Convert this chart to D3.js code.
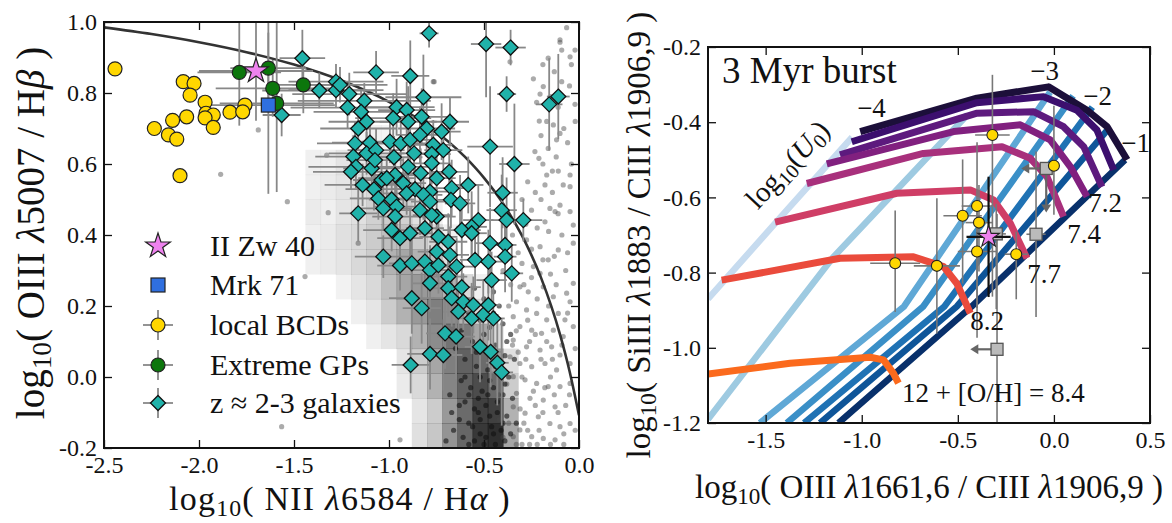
<!DOCTYPE html>
<html>
<head>
<meta charset="utf-8">
<script src="https://cdn.jsdelivr.net/npm/d3@7"></script>
<style>
  body { margin: 0; background: #fff; }
  text { font-family: "Liberation Serif", "DejaVu Serif", serif; fill: #111; }
</style>
</head>
<body>
<svg id="chart" width="1172" height="523"></svg>
<script>
// ---------------- left panel (BPT) data ----------------
var bptTicksX = [-2.5, -2.0, -1.5, -1.0, -0.5, 0.0];
var bptTicksY = [-0.2, 0.0, 0.2, 0.4, 0.6, 0.8, 1.0];

// maximum starburst line
var kewleyX = [-2.5, -2.25, -2.0, -1.75, -1.5, -1.25, -1.0, -0.8, -0.6, -0.5, -0.4, -0.3, -0.2, -0.1, -0.05, 0.0];
var kewleyY = [0.985, 0.966, 0.943, 0.915, 0.880, 0.835, 0.775, 0.710, 0.620, 0.561, 0.489, 0.398, 0.280, 0.120, 0.017, -0.108];

// SDSS density: bins of 0.08 in x from -1.6, 0.07 in y from -0.2; [first column, greys...]
var histX0 = -1.6, histDX = 0.08, histY0 = -0.2, histDY = 0.07;
var histRows = [
  [9, [0.12, 0.22, 0.42, 0.6, 0.78, 0.82, 0.35]],
  [9, [0.1, 0.2, 0.4, 0.58, 0.75, 0.75, 0.3]],
  [8, [0.08, 0.15, 0.3, 0.48, 0.62, 0.7, 0.58, 0.2]],
  [8, [0.1, 0.2, 0.35, 0.5, 0.62, 0.58, 0.38, 0.12]],
  [6, [0.06, 0.1, 0.15, 0.3, 0.45, 0.55, 0.52, 0.35, 0.15]],
  [5, [0.06, 0.1, 0.2, 0.3, 0.4, 0.5, 0.45, 0.3, 0.15]],
  [4, [0.05, 0.1, 0.15, 0.25, 0.35, 0.4, 0.4, 0.3, 0.15, 0.06]],
  [2, [0.06, 0.08, 0.1, 0.15, 0.2, 0.3, 0.35, 0.3, 0.25, 0.12]],
  [2, [0.06, 0.08, 0.12, 0.15, 0.2, 0.25, 0.25, 0.2, 0.15, 0.06]],
  [2, [0.08, 0.06, 0.1, 0.12, 0.18, 0.2, 0.18, 0.12, 0.06]],
  [2, [0.06, 0.08, 0.1, 0.12, 0.15, 0.15, 0.12, 0.06]],
  [2, [0.06, 0.06, 0.1, 0.1, 0.1, 0.08, 0.06]],
  [5, [0.04, 0.05, 0.04, 0.03]]
];

// SDSS galaxies
var sdssDots = [
  [-0.065,0.984],[-0.1,0.943],[-0.091,0.921],[-0.047,0.902],[-0.162,0.898],[-0.021,0.921],[-0.188,0.818],[-0.205,0.797],
  [-0.223,0.774],[-0.021,0.768],[-0.091,0.832],[-0.135,0.710],[-0.1,0.686],[-0.209,0.721],[-0.232,0.635],[-0.211,0.616],
  [-0.162,0.644],[-0.118,0.668],[-0.170,0.569],[-0.109,0.580],[-0.047,0.569],[-0.179,0.541],[-0.083,0.541],[-0.047,0.536],
  [-0.153,0.475],[-0.1,0.484],[-0.126,0.466],[-0.047,0.466],[-0.179,0.437],[-0.03,0.428],[-0.762,0.832],[-0.363,0.888],
  [-0.276,0.386],[-0.205,0.367],[-0.162,0.330],[-0.13,0.34],[-0.109,0.358],[-0.03,0.377],[-0.24,0.311],[-0.205,0.292],
  [-0.311,0.254],[-0.267,0.240],[-0.188,0.254],[-0.135,0.226],[-0.065,0.236],[-0.047,0.212],[-0.329,0.212],[-0.276,0.189],
  [-0.223,0.179],[-0.170,0.161],[-0.109,0.179],[-0.346,0.170],[-0.311,0.142],[-0.249,0.132],[-0.197,0.123],[-0.135,0.132],
  [-0.083,0.114],[-0.346,0.104],[-0.276,0.085],[-0.205,0.076],[-0.144,0.085],[-0.1,0.062],[-0.363,0.057],[-0.311,0.038],
  [-0.249,0.029],[-0.179,0.038],[-0.118,0.020],[-0.346,0.001],[-0.284,-0.008],[-0.223,-0.018],[-0.162,-0.027],[-0.1,-0.027],
  [-0.047,-0.018],[-0.329,-0.046],[-0.258,-0.060],[-0.188,-0.065],[-0.126,-0.084],[-0.346,-0.084],[-0.284,-0.102],[-0.214,-0.112],
  [-0.153,-0.131],[-0.1,-0.140],[-0.047,-0.131],[-0.311,-0.149],[-0.249,-0.168],[-0.188,-0.173],[-0.126,-0.177],[-0.346,-0.168],
  [-0.03,0.264],[-0.074,0.161],[-0.03,0.142],[-0.047,0.038],
  [-0.3,0.32],[-0.26,0.1],[-0.22,0.22],[-0.29,-0.13],[-0.19,-0.1],[-0.24,-0.04],[-0.3,0.0],[-0.15,0.0],[-0.32,0.07],
  [-0.27,0.16],[-0.2,0.05],[-0.13,-0.05],[-0.09,0.09],[-0.33,-0.19],[-0.26,-0.19],[-0.21,-0.15],[-0.07,-0.08],[-0.16,0.2],
  [-0.12,0.26],[-0.07,0.3],[-0.22,0.42],[-0.25,0.47],[-0.19,0.6],[-0.14,0.52],[-0.12,0.62],[-0.08,0.7],[-0.05,0.82],
  [-0.15,0.79],[-0.2,0.68],[-0.27,0.55],[-0.3,0.5],[-0.35,0.4],[-0.32,0.35],[-0.36,0.26],[-0.4,0.3],[-0.37,0.2],
  [-0.42,-0.05],[-0.38,-0.02],[-0.35,0.09],[-0.31,-0.09],[-0.28,0.05],[-0.23,0.12],[-0.17,0.1],[-0.14,0.05],[-0.11,-0.1],
  [-0.08,-0.16],[-0.05,-0.05],[-0.06,0.18],[-0.02,0.08],[-0.15,0.29],[-0.25,0.28],[-0.19,0.33],[-0.09,0.4],[-0.06,0.35],
  [-0.28,0.43],[-0.23,0.52],[-0.16,0.41],[-0.11,0.46],[-0.04,0.6],[-0.14,0.58],[-0.2,0.5],[-0.17,0.72],[-0.11,0.76],
  [-0.06,0.66],[-0.02,0.72],[-0.13,0.86],[-0.04,0.88],[-0.19,0.88],[-0.1,0.95],[-0.4,-0.17],[-0.37,-0.13],[-0.42,-0.12],
  [-0.3,-0.19],[-0.22,-0.19],[-0.15,-0.19],[-0.08,-0.19],[-0.02,-0.15],[-0.27,-0.15],[-0.23,-0.08],[-0.18,-0.03],[-0.33,0.13],
  [-0.29,0.26],[-0.25,0.36],[-0.24,0.84],
  [-1.328,0.625],[-1.535,0.494],[-1.32,0.463],[-0.767,0.832],[-1.688,0.696],[-1.886,0.571],[-1.442,0.283],
  [-1.565,-0.14],[-0.942,-0.177],[-1.162,0.377]
];
var sdssCore = [
  [-0.55,0.25],[-0.5,0.22],[-0.45,0.24],[-0.42,0.2],[-0.58,0.18],[-0.52,0.16],[-0.47,0.14],[-0.4,0.15],[-0.36,0.12],
  [-0.56,0.1],[-0.5,0.08],[-0.44,0.09],[-0.39,0.06],[-0.6,0.05],[-0.54,0.03],[-0.48,0.02],[-0.42,0.01],[-0.37,0.0],
  [-0.62,-0.01],[-0.57,-0.03],[-0.51,-0.04],[-0.45,-0.03],[-0.4,-0.05],[-0.35,-0.06],[-0.6,-0.07],[-0.55,-0.09],
  [-0.49,-0.08],[-0.43,-0.1],[-0.38,-0.11],[-0.63,-0.12],[-0.58,-0.13],[-0.52,-0.12],[-0.46,-0.14],[-0.41,-0.15],
  [-0.36,-0.16],[-0.61,-0.17],[-0.55,-0.18],[-0.49,-0.17],[-0.44,-0.19],[-0.39,-0.18],[-0.53,-0.06],[-0.47,-0.01],
  [-0.41,0.04],[-0.5,0.12],[-0.45,0.18],[-0.66,-0.15],[-0.68,-0.05],[-0.65,0.08],[-0.33,-0.13],[-0.34,0.05],
  [-0.7,-0.18],[-0.57,0.21],[-0.48,0.27],[-0.62,0.13],
  [-0.58,-0.19],[-0.52,-0.16],[-0.47,-0.11],[-0.43,-0.07],[-0.39,-0.02],[-0.56,-0.14],[-0.5,-0.19],[-0.45,-0.16],
  [-0.4,-0.13],[-0.53,-0.1],[-0.48,-0.05],[-0.44,0.03],[-0.52,0.0],[-0.58,-0.05],[-0.63,-0.08],[-0.38,0.1],
  [-0.46,0.07],[-0.54,0.07],[-0.6,0.0],[-0.67,-0.1]
];

// z~2-3 galaxies: [x, y, xerr, yerr]
var hizGals = [
  [-0.789,0.968,0.05,0.04],[-0.489,0.938,0.08,0.15],[-0.360,0.928,0.08,0.05],[-1.456,0.898,0.12,0.08],[-1.068,0.858,0.12,0.06],
  [-0.888,0.848,0.10,0.10],[-0.381,0.797,0.05,0.05],[-0.819,0.788,0.2,0.12],[-1.279,0.832,0.25,0.05],[-1.367,0.807,0.3,0.05],
  [-1.279,0.808,0.25,0.05],[-1.209,0.797,0.3,0.06],[-1.130,0.778,0.35,0.05],[-1.565,0.738,0.1,0.06],[-1.218,0.759,0.3,0.06],
  [-1.147,0.747,0.25,0.06],[-0.960,0.760,0.2,0.08],[-0.907,0.752,0.15,0.08],[-0.978,0.729,0.2,0.07],[-0.899,0.719,0.15,0.1],
  [-0.828,0.733,0.15,0.08],[-0.679,0.719,0.1,0.07],[-1.118,0.719,0.2,0.06],[-1.162,0.700,0.2,0.06],[-0.802,0.700,0.15,0.08],
  [-0.723,0.691,0.1,0.08],[-1.179,0.658,0.2,0.06],[-1.100,0.660,0.2,0.06],[-0.995,0.663,0.15,0.06],[-0.938,0.658,0.15,0.07],
  [-0.889,0.668,0.12,0.08],[-0.837,0.682,0.12,0.08],[-0.767,0.654,0.1,0.07],[-0.714,0.639,0.1,0.07],[-0.468,0.649,0.12,0.17],
  [-1.118,0.630,0.2,0.06],[-1.068,0.639,0.15,0.06],[-0.974,0.619,0.15,0.06],[-0.868,0.630,0.12,0.06],[-0.775,0.628,0.1,0.06],
  [-1.188,0.621,0.2,0.06],[-1.174,0.592,0.25,0.06],[-1.200,0.578,0.2,0.05],[-1.091,0.588,0.15,0.06],[-1.074,0.611,0.15,0.06],
  [-0.899,0.592,0.12,0.08],[-0.833,0.574,0.12,0.07],[-0.775,0.602,0.1,0.06],[-0.683,0.578,0.1,0.07],[-0.340,0.600,0.08,0.17],
  [-0.968,0.569,0.12,0.06],[-1.039,0.555,0.15,0.06],[-1.139,0.541,0.2,0.06],[-1.079,0.529,0.15,0.06],[-0.925,0.546,0.12,0.07],
  [-0.863,0.529,0.12,0.06],[-0.784,0.522,0.1,0.07],[-0.749,0.560,0.1,0.07],[-0.670,0.532,0.1,0.08],[-0.583,0.541,0.08,0.08],
  [-1.056,0.503,0.15,0.06],[-0.986,0.500,0.12,0.06],[-0.907,0.517,0.12,0.06],[-0.819,0.513,0.1,0.07],[-0.784,0.494,0.1,0.07],
  [-0.674,0.499,0.1,0.08],[-0.626,0.489,0.08,0.08],[-0.402,0.519,0.08,0.1],[-1.030,0.475,0.15,0.06],[-0.960,0.480,0.12,0.06],
  [-0.837,0.470,0.1,0.07],[-0.749,0.452,0.1,0.07],[-1.162,0.461,0.1,0.08],[-0.407,0.470,0.08,0.1],[-0.381,0.442,0.08,0.12],
  [-0.293,0.442,0.1,0.06],[-0.530,0.442,0.08,0.1],[-0.565,0.423,0.08,0.1],[-0.617,0.414,0.1,0.08],[-0.688,0.381,0.1,0.08],
  [-0.468,0.377,0.08,0.1],[-0.389,0.372,0.06,0.1],[-0.986,0.414,0.15,0.06],[-0.889,0.405,0.12,0.07],[-0.942,0.391,0.12,0.06],
  [-0.811,0.419,0.1,0.07],[-0.740,0.395,0.1,0.07],[-0.968,0.452,0.12,0.06],[-0.775,0.456,0.1,0.07],[-0.565,0.405,0.08,0.08],
  [-0.389,0.339,0.06,0.1],[-1.030,0.339,0.15,0.06],[-0.942,0.314,0.12,0.07],[-0.880,0.320,0.12,0.07],[-0.811,0.325,0.1,0.07],
  [-0.784,0.301,0.1,0.07],[-0.740,0.315,0.1,0.08],[-0.749,0.353,0.1,0.07],[-0.679,0.344,0.1,0.08],[-0.644,0.311,0.1,0.08],
  [-0.547,0.330,0.08,0.08],[-0.477,0.325,0.08,0.09],[-0.354,0.292,0.06,0.08],[-0.460,0.273,0.08,0.08],[-0.688,0.283,0.1,0.08],
  [-0.784,0.264,0.1,0.08],[-0.688,0.250,0.1,0.08],[-0.617,0.253,0.1,0.08],[-0.880,0.222,0.12,0.1],[-0.828,0.194,0.1,0.1],
  [-0.670,0.222,0.1,0.08],[-0.609,0.212,0.08,0.08],[-0.635,0.184,0.08,0.08],[-0.565,0.165,0.08,0.1],[-0.556,0.203,0.08,0.08],
  [-0.504,0.175,0.08,0.1],[-0.477,0.203,0.06,0.1],[-0.451,0.165,0.06,0.1],[-0.705,0.123,0.1,0.1],[-0.647,0.114,0.1,0.12],
  [-0.784,0.065,0.12,0.1],[-0.714,0.062,0.1,0.1],[-0.521,0.085,0.08,0.1],[-0.465,0.071,0.06,0.1],[-0.430,0.040,0.06,0.12],
  [-0.407,0.013,0.06,0.15],[-0.886,0.034,0.1,0.08],[-0.157,0.768,0.07,0.13],[-0.109,0.790,0.06,0.12],[-1.258,0.823,0.25,0.05],
  [-1.012,0.560,0.15,0.06]
];

// local BCDs
var bcdsLeft = [
  [-2.442,0.868],[-2.083,0.832],[-2.026,0.827],[-2.047,0.794],[-1.968,0.774],[-1.758,0.766],[-1.837,0.746],[-1.770,0.747],
  [-2.065,0.733],[-1.963,0.743],[-1.925,0.738],[-1.968,0.730],[-1.925,0.703],[-2.139,0.723],[-2.235,0.700],[-2.161,0.682],
  [-2.117,0.670],[-2.100,0.567]
];
// extreme green peas: [x, y, xerr, yerr]
var gpsLeft = [[-1.788,0.858,0.22,0.15],[-1.635,0.870,0.2,0.1],[-1.612,0.813,0.3,0.08],[-1.451,0.823,0.15,0.08],[-1.591,0.771,0.3,0.25]];
var iizw40Left = [-1.70, 0.862, 0.3, 0.14];
var mrk71Left = [-1.635, 0.766, 0.35, 0.25];

var legendNames = ["II Zw 40", "Mrk 71", "local BCDs", "Extreme GPs", "z \u2248 2-3 galaxies"];

// ---------------- right panel (UV) data ----------------
var uvTicksX = [-1.5, -1.0, -0.5, 0.0, 0.5];
var uvTicksY = [-1.2, -1.0, -0.8, -0.6, -0.4, -0.2];

// diagonal model tracks, light to dark
var blueColors = ["#c6dbef", "#9ecae1", "#5fa8d6", "#3a8fc7", "#1f72b4", "#0e5599", "#08306b"];
var blueTracks = [
  [[-1.8,-0.87],[-1.4,-0.64],[-1.05,-0.44]],
  [[-1.8,-1.19],[-1.15,-0.76],[-0.45,-0.38]],
  [[-1.53,-1.2],[-0.78,-0.89],[-0.02,-0.32]],
  [[-1.39,-1.2],[-0.68,-0.89],[0.1,-0.33]],
  [[-1.30,-1.2],[-0.57,-0.89],[0.2,-0.36]],
  [[-1.217,-1.2],[-0.505,-0.89],[0.28,-0.42]],
  [[-1.121,-1.2],[-0.427,-0.89],[0.37,-0.50]]
];
// near-horizontal model tracks, dark to orange
var warmColors = ["#1c0f3a", "#3c0f6e", "#5d1a7e", "#81207f", "#a8307c", "#cf3e66", "#ea4b3c", "#fb6a1d"];
var warmTracks = [
  [[-1.008,-0.425],[-0.401,-0.336],[-0.028,-0.306],[0.172,-0.368],[0.277,-0.412],[0.381,-0.50]],
  [[-1.052,-0.452],[-0.401,-0.348],[-0.054,-0.332],[0.12,-0.368],[0.224,-0.421],[0.311,-0.527]],
  [[-1.113,-0.487],[-0.40,-0.376],[-0.106,-0.372],[0.05,-0.412],[0.155,-0.465],[0.25,-0.572]],
  [[-1.182,-0.511],[-0.522,-0.425],[-0.175,-0.407],[-0.019,-0.447],[0.085,-0.518],[0.172,-0.598]],
  [[-1.286,-0.563],[-0.679,-0.483],[-0.27,-0.465],[-0.123,-0.496],[-0.036,-0.545],[0.05,-0.651]],
  [[-1.451,-0.666],[-0.817,-0.589],[-0.435,-0.58],[-0.314,-0.607],[-0.227,-0.669],[-0.14,-0.762]],
  [[-1.729,-0.82],[-1.113,-0.762],[-0.731,-0.758],[-0.574,-0.784],[-0.505,-0.829],[-0.435,-0.908]],
  [[-1.8,-1.07],[-1.373,-1.041],[-0.956,-1.025],[-0.887,-1.032],[-0.835,-1.068],[-0.809,-1.094]]
];

// local BCDs: [x, y, xerr, yerr down, yerr up]
var bcdsRight = [
  [-0.32,-0.434,0.09,0.43,0.16],[0.0,-0.516,0.0,0.13,0.16],[-0.40,-0.623,0.08,0.35,0.17],[-0.475,-0.649,0.1,0.18,0.15],
  [-0.39,-0.667,0.07,0.13,0.1],[-0.40,-0.744,0.1,0.15,0.12],[-0.196,-0.751,0.06,0.12,0.06],[-0.826,-0.775,0.13,0.13,0.14],
  [-0.609,-0.782,0.12,0.18,0.18]
];
// grey points: [x, y, xerr, yerr down, yerr up, left arrow to x, down arrow to y]
var limitsRight = [
  [-0.04,-0.523,0,0,0,-0.17,-0.64],
  [-0.093,-0.698,0.05,0.22,0.22,null,null],
  [-0.30,-0.697,0.05,0.2,0.08,null,null],
  [-0.296,-1.004,0,0.2,0.36,-0.435,null]
];
var iizw40Right = [-0.34, -0.705, 0.115, 0.16, 0.16];

var uLabels = [["\u22124",-1.024,-0.385],["\u22123",-0.123,-0.288],["\u22122",0.153,-0.354],["\u22121",0.35,-0.479]];
var zLabels = [["7.2",0.179,-0.638],["7.4",0.07,-0.721],["7.7",-0.139,-0.828],["8.2",-0.435,-0.953],["12 + [O/H] = 8.4",-0.79,-1.144]];

// ---------------- drawing ----------------
var svg = d3.select("#chart");
svg.append("rect").attr("width", 1172).attr("height", 523).attr("fill", "#fff");

var xL = d3.scaleLinear().domain([-2.5, 0]).range([104, 579]);
var yL = d3.scaleLinear().domain([-0.2, 1.0]).range([448, 22]);
var xR = d3.scaleLinear().domain([-1.8, 0.5]).range([708, 1150]);
var yR = d3.scaleLinear().domain([-1.2, -0.2]).range([423, 47]);

var fmt = function(d) { return d3.format(".1f")(d).replace("\u2212", "-"); };

function mathText(sel, parts) {
  parts.forEach(function(p) {
    var t = sel.append("tspan").text(p[0]);
    if (p[1] == "sub") t.attr("font-size", "70%").attr("dy", "0.25em");
    if (p[1] == "back") t.attr("dy", "-0.175em");
    if (p[1] == "it") t.attr("font-style", "italic");
  });
}

function drawFrame(g, x, y, tx, ty) {
  var x0 = x.range()[0], x1 = x.range()[1], y0 = y.range()[0], y1 = y.range()[1];
  var ax = [
    g.append("g").attr("transform", "translate(0," + y0 + ")").call(d3.axisBottom(x).tickValues(tx).tickSize(-8).tickPadding(8).tickFormat(fmt)),
    g.append("g").attr("transform", "translate(0," + y1 + ")").call(d3.axisTop(x).tickValues(tx).tickSize(-8).tickFormat("")),
    g.append("g").attr("transform", "translate(" + x0 + ",0)").call(d3.axisLeft(y).tickValues(ty).tickSize(-8).tickPadding(7).tickFormat(fmt)),
    g.append("g").attr("transform", "translate(" + x1 + ",0)").call(d3.axisRight(y).tickValues(ty).tickSize(-8).tickFormat(""))
  ];
  ax.forEach(function(a) {
    a.select(".domain").remove();
    a.selectAll("line").attr("stroke", "#111").attr("stroke-width", 1.3);
    a.attr("font-size", 24).attr("font-family", null);
    a.selectAll("text").attr("fill", "#111");
  });
  g.append("rect").attr("x", x0).attr("y", y1).attr("width", x1 - x0).attr("height", y0 - y1)
    .attr("fill", "none").attr("stroke", "#111").attr("stroke-width", 2);
}

function diamondPath(h) { return "M0," + (-h) + "L" + h + ",0L0," + h + "L" + (-h) + ",0Z"; }
var starPath = d3.symbol().type(d3.symbolStar).size(13 * 13 / 0.8908130915)();
var starSmall = d3.symbol().type(d3.symbolStar).size(11.5 * 11.5 / 0.8908130915)();

function errorBars(g, data, x, y, color, width) {
  var e = g.append("g").attr("stroke", color).attr("stroke-width", width);
  data.forEach(function(d) {
    var dn = d[3], up = d.length > 4 ? d[4] : d[3];
    if (d[2] > 0) e.append("line").attr("x1", x(d[0] - d[2])).attr("x2", x(d[0] + d[2])).attr("y1", y(d[1])).attr("y2", y(d[1]));
    if (dn > 0 || up > 0) e.append("line").attr("x1", x(d[0])).attr("x2", x(d[0])).attr("y1", y(d[1] - dn)).attr("y2", y(d[1] + up));
  });
}

// ---------- left panel ----------
var gL = svg.append("g");
svg.append("clipPath").attr("id", "clipL").append("rect")
  .attr("x", 104).attr("y", 22).attr("width", 475).attr("height", 426);
var pL = gL.append("g").attr("clip-path", "url(#clipL)");

var cells = [];
histRows.forEach(function(r, j) {
  r[1].forEach(function(v, i) {
    var k = r[0] + i;
    cells.push({x0: histX0 + k * histDX, y0: histY0 + j * histDY, v: v});
  });
});
pL.append("g").selectAll("rect").data(cells).join("rect")
  .attr("x", function(d) { return xL(d.x0); })
  .attr("y", function(d) { return yL(d.y0 + histDY); })
  .attr("width", function(d) { return xL(d.x0 + histDX) - xL(d.x0) + 0.5; })
  .attr("height", function(d) { return yL(d.y0) - yL(d.y0 + histDY) + 0.5; })
  .attr("fill", "#000").attr("fill-opacity", function(d) { return d.v; });

pL.append("g").selectAll("circle").data(sdssDots).join("circle")
  .attr("cx", function(d) { return xL(d[0]); }).attr("cy", function(d) { return yL(d[1]); })
  .attr("r", 2.6).attr("fill", "#444").attr("fill-opacity", 0.45);
pL.append("g").selectAll("circle").data(sdssCore).join("circle")
  .attr("cx", function(d) { return xL(d[0]); }).attr("cy", function(d) { return yL(d[1]); })
  .attr("r", 2.6).attr("fill", "#111").attr("fill-opacity", 0.6);

var kew = kewleyX.map(function(v, i) { return [v, kewleyY[i]]; });
pL.append("path").datum(kew)
  .attr("d", d3.line().x(function(d) { return xL(d[0]); }).y(function(d) { return yL(d[1]); }).curve(d3.curveMonotoneX))
  .attr("fill", "none").attr("stroke", "#333").attr("stroke-width", 2.6);

errorBars(pL, hizGals, xL, yL, "#888", 1.8);
errorBars(pL, gpsLeft, xL, yL, "#888", 1.8);
errorBars(pL, [iizw40Left, mrk71Left], xL, yL, "#888", 1.8);

pL.append("g").selectAll("path").data(hizGals).join("path")
  .attr("d", diamondPath(7.5))
  .attr("transform", function(d) { return "translate(" + xL(d[0]) + "," + yL(d[1]) + ")"; })
  .attr("fill", "#20b2aa").attr("stroke", "#111").attr("stroke-width", 1.3);
pL.append("g").selectAll("circle").data(bcdsLeft).join("circle")
  .attr("cx", function(d) { return xL(d[0]); }).attr("cy", function(d) { return yL(d[1]); })
  .attr("r", 7).attr("fill", "#ffd700").attr("stroke", "#222").attr("stroke-width", 1.2);
pL.append("g").selectAll("circle").data(gpsLeft).join("circle")
  .attr("cx", function(d) { return xL(d[0]); }).attr("cy", function(d) { return yL(d[1]); })
  .attr("r", 7).attr("fill", "#0c760c").attr("stroke", "#222").attr("stroke-width", 1.2);
pL.append("rect").attr("x", xL(mrk71Left[0]) - 7).attr("y", yL(mrk71Left[1]) - 7).attr("width", 14).attr("height", 14)
  .attr("fill", "#2f6fe0").attr("stroke", "#222").attr("stroke-width", 1.2);
pL.append("path").attr("d", starPath)
  .attr("transform", "translate(" + xL(iizw40Left[0]) + "," + yL(iizw40Left[1]) + ")")
  .attr("fill", "#ee82ee").attr("stroke", "#222").attr("stroke-width", 1.2);

// legend
var leg = gL.append("g");
var legY = [246, 285, 325, 365, 403];
leg.append("path").attr("d", starPath).attr("transform", "translate(158," + legY[0] + ")")
  .attr("fill", "#ee82ee").attr("stroke", "#222").attr("stroke-width", 1.2);
leg.append("rect").attr("x", 151).attr("y", legY[1] - 7).attr("width", 14).attr("height", 14)
  .attr("fill", "#2f6fe0").attr("stroke", "#222").attr("stroke-width", 1.2);
[2, 3, 4].forEach(function(i) {
  leg.append("line").attr("x1", 143).attr("x2", 173).attr("y1", legY[i]).attr("y2", legY[i]).attr("stroke", "#888").attr("stroke-width", 1.8);
  leg.append("line").attr("x1", 158).attr("x2", 158).attr("y1", legY[i] - 15).attr("y2", legY[i] + 15).attr("stroke", "#888").attr("stroke-width", 1.8);
});
leg.append("circle").attr("cx", 158).attr("cy", legY[2]).attr("r", 7).attr("fill", "#ffd700").attr("stroke", "#222").attr("stroke-width", 1.2);
leg.append("circle").attr("cx", 158).attr("cy", legY[3]).attr("r", 7).attr("fill", "#0c760c").attr("stroke", "#222").attr("stroke-width", 1.2);
leg.append("path").attr("d", diamondPath(7.5)).attr("transform", "translate(158," + legY[4] + ")")
  .attr("fill", "#20b2aa").attr("stroke", "#111").attr("stroke-width", 1.3);
leg.selectAll("text.lg").data(legendNames).join("text").attr("class", "lg")
  .attr("x", 210).attr("y", function(d, i) { return legY[i] + 10; })
  .attr("font-size", 30).text(function(d) { return d; });

drawFrame(gL, xL, yL, bptTicksX, bptTicksY);

mathText(gL.append("text").attr("x", 340).attr("y", 510).attr("text-anchor", "middle")
    .attr("font-size", 34).attr("letter-spacing", 1.2),
  [["log"], ["10", "sub"], ["( NII ", "back"], ["\u03bb", "it"], ["6584 / H"], ["\u03b1", "it"], [" )"]]);
mathText(gL.append("text").attr("transform", "translate(44,233) rotate(-90)").attr("text-anchor", "middle").attr("font-size", 39),
  [["log"], ["10", "sub"], ["( OIII ", "back"], ["\u03bb", "it"], ["5007 / H"], ["\u03b2", "it"], [" )"]]);

// ---------- right panel ----------
var gR = svg.append("g");
svg.append("clipPath").attr("id", "clipR").append("rect")
  .attr("x", 708).attr("y", 47).attr("width", 442).attr("height", 376);
var pR = gR.append("g").attr("clip-path", "url(#clipR)");
var lineR = d3.line().x(function(d) { return xR(d[0]); }).y(function(d) { return yR(d[1]); });

pR.append("g").selectAll("path").data(blueTracks).join("path")
  .attr("d", lineR).attr("fill", "none").attr("stroke-width", 6.5)
  .attr("stroke", function(d, i) { return blueColors[i]; });
pR.append("g").selectAll("path").data(warmTracks).join("path")
  .attr("d", lineR).attr("fill", "none").attr("stroke-width", 7).attr("stroke-linejoin", "round")
  .attr("stroke", function(d, i) { return warmColors[i]; });

errorBars(pR, bcdsRight, xR, yR, "#777", 1.6);
errorBars(pR, limitsRight, xR, yR, "#777", 1.6);

var arr = pR.append("g").attr("stroke", "#666").attr("fill", "#666").attr("stroke-width", 2.2);
limitsRight.forEach(function(d) {
  if (d[5] != null) {
    arr.append("line").attr("x1", xR(d[0])).attr("x2", xR(d[5]) + 6).attr("y1", yR(d[1])).attr("y2", yR(d[1]));
    arr.append("path").attr("d", "M" + xR(d[5]) + "," + yR(d[1]) + "l8,-5l0,10z").attr("stroke", "none");
  }
  if (d[6] != null) {
    arr.append("line").attr("x1", xR(d[0])).attr("x2", xR(d[0])).attr("y1", yR(d[1])).attr("y2", yR(d[6]) - 6);
    arr.append("path").attr("d", "M" + xR(d[0]) + "," + yR(d[6]) + "l-5,-8l10,0z").attr("stroke", "none");
  }
});
pR.append("g").selectAll("rect").data(limitsRight).join("rect")
  .attr("x", function(d) { return xR(d[0]) - 6; }).attr("y", function(d) { return yR(d[1]) - 6; })
  .attr("width", 12).attr("height", 12).attr("fill", "#bbb").attr("stroke", "#555").attr("stroke-width", 1.3);

pR.append("g").selectAll("circle").data(bcdsRight).join("circle")
  .attr("cx", function(d) { return xR(d[0]); }).attr("cy", function(d) { return yR(d[1]); })
  .attr("r", 5.5).attr("fill", "#ffd700").attr("stroke", "#222").attr("stroke-width", 1.1);

errorBars(pR, [iizw40Right], xR, yR, "#111", 2.2);
pR.append("path").attr("d", starSmall)
  .attr("transform", "translate(" + xR(iizw40Right[0]) + "," + yR(iizw40Right[1]) + ")")
  .attr("fill", "#ee82ee").attr("stroke", "#222").attr("stroke-width", 1.1);

drawFrame(gR, xR, yR, uvTicksX, uvTicksY);

gR.append("text").attr("x", 722).attr("y", 83).attr("font-size", 37).text("3 Myr burst");
gR.selectAll("text.u").data(uLabels).join("text").attr("class", "u")
  .attr("x", function(d) { return xR(d[1]); }).attr("y", function(d) { return yR(d[2]); })
  .attr("font-size", 27).text(function(d) { return d[0]; });
gR.selectAll("text.z").data(zLabels).join("text").attr("class", "z")
  .attr("x", function(d) { return xR(d[1]); }).attr("y", function(d) { return yR(d[2]); })
  .attr("font-size", 27).text(function(d) { return d[0]; });
mathText(gR.append("text").attr("transform", "translate(" + xR(-1.35) + "," + yR(-0.53) + ") rotate(-47)")
  .attr("text-anchor", "middle").attr("font-size", 29),
  [["log"], ["10", "sub"], ["(", "back"], ["U", "it"], ["0", "sub"], [")", "back"]]);

mathText(gR.append("text").attr("x", 929).attr("y", 498).attr("text-anchor", "middle").attr("font-size", 33),
  [["log"], ["10", "sub"], ["( OIII ", "back"], ["\u03bb", "it"], ["1661,6 / CIII "], ["\u03bb", "it"], ["1906,9 )"]]);
mathText(gR.append("text").attr("transform", "translate(650,235) rotate(-90)").attr("text-anchor", "middle").attr("font-size", 33),
  [["log"], ["10", "sub"], ["( SiIII ", "back"], ["\u03bb", "it"], ["1883 / CIII "], ["\u03bb", "it"], ["1906,9 )"]]);
</script>
</body>
</html>
